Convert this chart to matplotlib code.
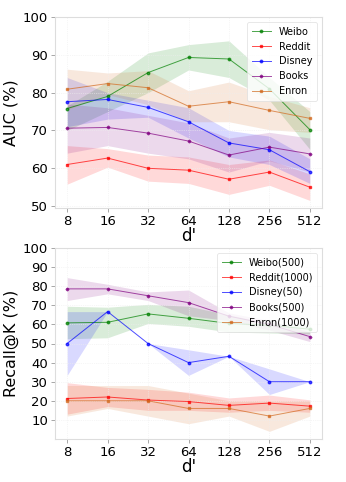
import matplotlib.pyplot as plt

d_labels = ["8", "16", "32", "64", "128", "256", "512"]

# AUC (%) - mean, upper and lower edge of the shaded band
auc_names = ["Weibo", "Reddit", "Disney", "Books", "Enron"]
auc_weibo = [75.8, 79.0, 85.3, 89.3, 88.9, 81.0, 70.2]
auc_weibo_hi = [76.5, 83.0, 90.5, 92.7, 93.7, 84.0, 75.0]
auc_weibo_lo = [70.0, 75.0, 80.0, 86.0, 84.0, 78.0, 65.0]
auc_reddit = [61.0, 62.7, 60.0, 59.5, 57.1, 59.0, 55.0]
auc_reddit_hi = [66.0, 65.2, 63.5, 63.0, 61.0, 62.2, 58.5]
auc_reddit_lo = [55.8, 60.3, 56.6, 56.0, 53.1, 55.5, 51.5]
auc_disney = [77.6, 78.2, 76.1, 72.3, 66.7, 64.9, 59.1]
auc_disney_hi = [84.0, 80.0, 78.0, 76.0, 70.0, 68.5, 62.5]
auc_disney_lo = [71.0, 73.0, 73.5, 68.0, 63.0, 61.0, 56.0]
auc_books = [70.6, 70.8, 69.3, 67.2, 63.5, 65.6, 63.8]
auc_books_hi = [77.0, 76.0, 74.0, 72.0, 68.0, 69.5, 68.0]
auc_books_lo = [64.0, 66.0, 64.0, 62.5, 59.0, 62.0, 59.0]
auc_enron = [80.9, 82.4, 81.3, 76.4, 77.6, 75.3, 73.2]
auc_enron_hi = [86.2, 85.2, 85.8, 80.5, 82.8, 79.0, 76.0]
auc_enron_lo = [75.5, 79.5, 76.8, 72.3, 72.3, 70.2, 69.5]

# Recall@K (%)
rec_names = ["Weibo(500)", "Reddit(1000)", "Disney(50)", "Books(500)", "Enron(1000)"]
rec_weibo = [60.8, 61.1, 65.5, 63.2, 60.5, 59.5, 57.5]
rec_weibo_hi = [69.5, 69.0, 70.5, 69.5, 65.0, 60.5, 60.0]
rec_weibo_lo = [52.5, 53.0, 60.5, 59.0, 56.0, 55.5, 55.0]
rec_reddit = [21.2, 22.0, 20.4, 19.6, 17.6, 18.8, 17.2]
rec_reddit_hi = [29.5, 27.0, 26.0, 24.5, 21.5, 23.0, 20.5]
rec_reddit_lo = [13.0, 17.0, 15.0, 15.0, 14.0, 15.0, 14.0]
rec_disney = [50.0, 66.7, 50.0, 40.0, 43.3, 30.0, 30.0]
rec_disney_hi = [66.7, 66.7, 50.0, 46.7, 43.3, 36.7, 30.0]
rec_disney_lo = [33.3, 66.7, 50.0, 33.3, 43.3, 23.3, 30.0]
rec_books = [78.6, 78.6, 75.0, 71.4, 64.3, 60.0, 53.6]
rec_books_hi = [84.5, 81.0, 77.0, 78.0, 66.0, 62.0, 56.0]
rec_books_lo = [72.5, 76.0, 72.5, 64.5, 62.0, 57.0, 51.0]
rec_enron = [20.0, 20.0, 20.0, 16.0, 16.0, 12.0, 16.0]
rec_enron_hi = [28.0, 28.0, 28.0, 24.0, 20.0, 20.0, 20.0]
rec_enron_lo = [12.0, 16.0, 12.0, 8.0, 12.0, 4.0, 12.0]

colors = ["green", "red", "blue", "purple", "chocolate"]
markers = ["o", "s", "o", "P", "s"]

auc_series = [(auc_weibo, auc_weibo_lo, auc_weibo_hi), (auc_reddit, auc_reddit_lo, auc_reddit_hi),
              (auc_disney, auc_disney_lo, auc_disney_hi), (auc_books, auc_books_lo, auc_books_hi),
              (auc_enron, auc_enron_lo, auc_enron_hi)]
rec_series = [(rec_weibo, rec_weibo_lo, rec_weibo_hi), (rec_reddit, rec_reddit_lo, rec_reddit_hi),
              (rec_disney, rec_disney_lo, rec_disney_hi), (rec_books, rec_books_lo, rec_books_hi),
              (rec_enron, rec_enron_lo, rec_enron_hi)]


def draw_panel(ax, series, names, ylabel, yticks, ylim):
  x = list(range(len(d_labels)))
  for (mean, lo, hi), name, c, m in zip(series, names, colors, markers):
    ax.fill_between(x, lo, hi, color=c, alpha=0.15, linewidth=0)
    ax.plot(x, mean, color=c, marker=m, markersize=1.8, linewidth=0.7, alpha=0.7, label=name)
  ax.set_xticks(x)
  ax.set_xticklabels(d_labels, fontsize=9.5)
  ax.set_yticks(yticks)
  ax.tick_params(axis="y", labelsize=9.5)
  ax.tick_params(colors="#999999", labelcolor="black", length=3, width=0.6, pad=2)
  ax.set_ylim(*ylim)
  ax.set_xlabel("d'", fontsize=12, labelpad=-1)
  ax.set_ylabel(ylabel, fontsize=11.5, labelpad=3)
  ax.grid(True, color="#eeeeee", linestyle=":", linewidth=0.5)
  for s in ax.spines.values():
    s.set_color("#dddddd")
    s.set_linewidth(0.8)
  leg = ax.legend(loc="upper right", fontsize=7, framealpha=0.8, edgecolor="#dddddd",
                  handlelength=2.0, borderpad=0.5, labelspacing=0.5, handletextpad=0.8)
  leg.get_frame().set_linewidth(0.6)


fig = plt.figure(figsize=(3.46, 4.82), dpi=100)
ax1 = fig.add_axes([55 / 346, 1 - 208 / 482, 267 / 346, 191 / 482])
ax2 = fig.add_axes([55 / 346, 1 - 439 / 482, 267 / 346, 191 / 482])

draw_panel(ax1, auc_series, auc_names, "AUC (%)", [50, 60, 70, 80, 90, 100], (49.5, 100))
draw_panel(ax2, rec_series, rec_names, "Recall@K (%)", [10, 20, 30, 40, 50, 60, 70, 80, 90, 100], (0, 100))

fig.savefig("out.png", dpi=100)
